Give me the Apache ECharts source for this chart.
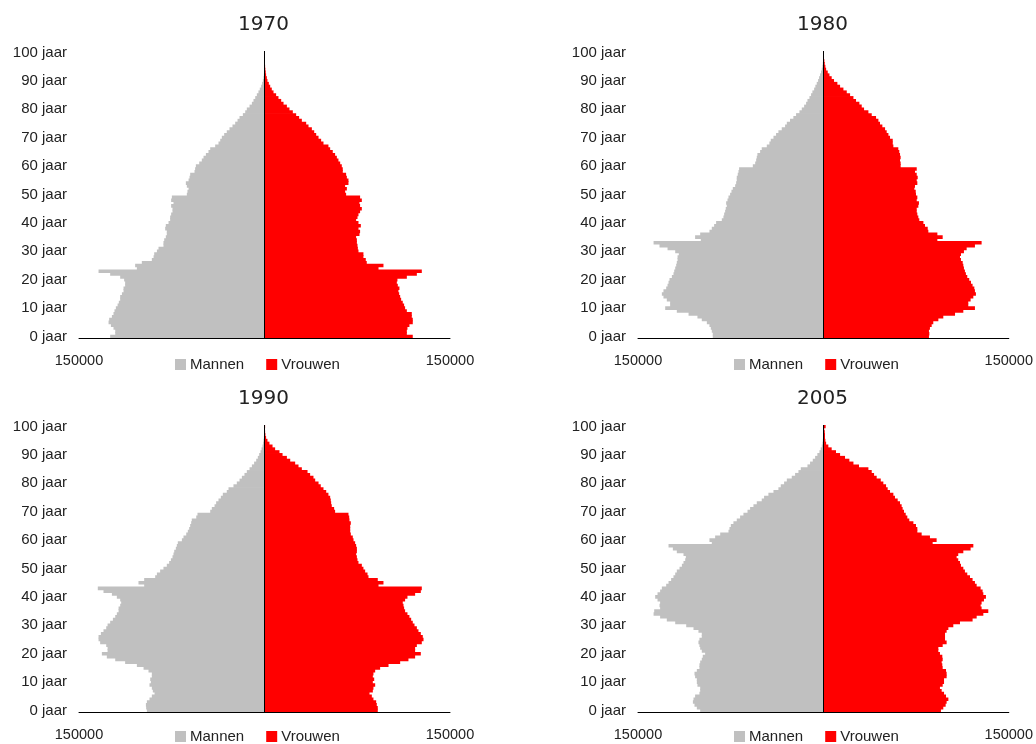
<!DOCTYPE html>
<html>
<head>
<meta charset="utf-8">
<title>Bevolkingspiramides</title>
<script src="https://cdn.jsdelivr.net/npm/echarts@6/dist/echarts.min.js"></script>
<style>
  html, body { margin: 0; padding: 0; background: #fff; }
  #chart { width: 1036px; height: 744px; }
</style>
</head>
<body>
<div id="chart"></div>
<script>
// ── Data (persons per age year) ─────────────────────────────────────────────

const ages = Array.from({ length: 101 }, (_, i) => i + ' jaar');

const m1970 = [124800,120700,120700,122100,124200,126100,125600,123400,122100,121300,
  120200,118800,117800,116700,116700,115300,114000,114000,112700,112700,
  113500,116700,124800,134200,103200,104600,99200,91100,89700,89200,
  87000,85700,81700,81700,81100,79800,79000,79000,80300,79800,
  77600,76300,76300,75500,74400,74400,75500,73600,75500,74900,
  62800,62300,61400,62800,63600,61400,60600,60100,56600,56100,
  55500,52800,50700,49300,47400,45300,43900,39900,37200,35800,
  34500,32600,30500,28300,25900,23700,21800,20200,17500,15600,
  14300,12100,10200,8900,7500,6200,4900,3800,2700,1900,
  1300,800,500,300,200,100,60,40,20,10,10];
const v1970 = [119900,115100,115100,115600,117200,119900,119900,119100,119100,115100,
  113700,112900,111800,110500,109700,108900,108300,109100,107800,107000,
  107500,115100,123200,127200,92200,96200,82700,81900,80000,80000,
  76000,75500,75200,74700,74700,74100,76800,77300,76000,77900,
  76000,74100,75200,76000,77300,78700,77300,76800,78700,77300,
  66000,65200,66600,65200,67900,67900,66600,66000,63300,63300,
  62500,61200,59800,58500,57100,55200,53100,51700,47700,45800,
  43700,41800,40200,38300,35600,33700,30200,28000,25600,22900,
  20200,18100,15400,13500,11300,9400,7300,5900,4600,3500,
  2400,1900,1300,1000,700,500,300,200,100,50,30];

const m1980 = [89500,89500,90300,91100,92200,94300,98400,101900,109100,118600,
  128000,124000,124000,126700,129400,130700,129400,127200,126100,125300,
  124500,122600,121300,120700,119900,119100,118600,118000,118000,117000,
  119900,126100,132600,137400,99200,103800,99700,92200,90300,88400,
  86800,82200,80900,80300,79500,79000,78200,78700,77600,76800,
  75500,74400,73300,71400,70600,70100,70100,69300,68700,68200,
  57100,55200,54400,53900,53400,51200,49900,45800,43700,42600,
  40400,38300,36400,33700,31000,29600,27000,24300,22100,19400,
  17500,15600,14000,12900,11300,10000,8900,7500,6500,5400,
  4300,3500,2700,1900,1300,800,500,300,200,100,50];
const v1980 = [85400,85700,85400,86200,87600,88900,93000,97000,106500,113200,
  122600,117200,117200,119100,121300,123400,122600,122100,120700,119400,
  118000,116400,115300,114500,113700,113200,112700,111300,110500,111300,
  113700,115900,122600,128000,92200,96500,92200,84900,84400,82200,
  80900,77600,76800,76000,75500,75500,76800,77300,75500,76000,
  74900,74700,73600,74100,76000,75500,76300,75500,74100,75500,
  62500,62500,62000,62500,62000,61400,60600,56600,56100,56100,
  53900,52600,51200,49900,47700,45800,44500,42600,39100,36400,
  32900,31000,29100,26400,24300,21600,18900,16200,13500,11300,
  8600,6700,4900,3500,2200,1600,1100,800,500,300,200];

const m1990 = [95100,95700,95900,95100,93000,91100,88900,90300,91100,93000,
  91900,92400,91100,91100,93800,97800,103200,112700,120700,127500,
  131500,126900,126900,128000,132900,134200,134200,132300,130200,128000,
  126900,124800,122600,120700,119400,118000,118000,116700,115900,116700,
  119400,123400,130200,134800,97300,101900,97300,88400,87000,84400,
  81700,79000,77100,75700,74400,73600,73000,71700,70900,70100,
  66800,65500,63300,62000,60900,60100,59300,58800,55200,54200,
  43900,42600,40400,39100,37200,35300,33700,30500,29100,25100,
  22400,20200,18300,16200,14300,12100,10200,8400,6700,5400,
  4300,3200,2400,1600,1100,800,500,300,200,100,50];
const v1990 = [91600,91600,90800,90300,88100,86800,84900,87600,88100,89500,
  87600,88700,87600,88100,89500,93500,100300,109700,116400,121800,
  126400,121800,121800,123200,127200,128600,128000,126400,124500,123200,
  121300,119900,118600,117200,115600,113700,112900,112400,111800,113700,
  115600,121800,126400,127200,92200,96200,91600,84100,83300,81400,
  80000,78700,76000,75200,74700,74100,74700,74700,74100,73300,
  72000,71400,69800,69300,69300,69300,69800,68700,68500,67900,
  57100,56300,54400,53900,53600,53100,51700,49900,47700,45500,
  43700,41000,39600,36900,34800,30200,27500,24800,20800,18100,
  14600,12100,8600,6500,4000,2400,1300,800,500,300,500];

const m2005 = [99700,102400,104300,105600,105100,103800,100300,99700,99700,101900,
  102400,102400,103800,104300,102400,100300,100300,99700,98400,97600,
  95700,98400,99700,100300,101100,100300,98400,98400,101100,105100,
  111000,119900,126700,132100,137400,136900,132100,132600,132100,134200,
  136100,134200,132100,130700,127200,125300,123200,121300,119900,118600,
  116400,114500,113200,111800,111300,113200,118600,121800,125300,90300,
  92200,87600,83500,76800,76000,74900,72800,70100,67400,64700,
  61400,59300,56600,53900,49900,48000,44500,40400,36400,34500,
  31800,29600,25600,22900,20200,18300,12900,10800,8600,6700,
  4900,3200,2200,1300,800,500,300,200,100,50,30];
const v2005 = [95100,97000,98900,99700,101100,99200,97600,95700,94300,96500,
  97600,97600,99700,99700,99200,96500,96200,95700,96500,96200,
  94300,93000,93000,96500,99700,98400,98400,98400,99700,101100,
  105100,110500,120700,124000,129400,133400,128000,127200,128000,129900,
  131500,129400,128800,127200,124000,122600,120700,118600,116400,114500,
  113200,111300,110500,109100,107800,109100,113200,119100,121300,88400,
  91600,86200,79500,76000,76000,74900,72800,69500,67900,66600,
  65200,64100,63300,62000,60100,57900,56600,53900,52000,50700,
  48500,46400,43100,41000,39100,36400,28800,24300,21000,17500,
  13500,10200,6700,4000,2200,1600,1300,1300,1100,700,1800];

const xMax = 150000;

// ── Layout ───────────────────────────────────────────────────────────────────

const panels = [
  { year: '1970', men: m1970, women: v1970, left: 79,  top: 51,  legendTop: 357 },
  { year: '1980', men: m1980, women: v1980, left: 638, top: 51,  legendTop: 357 },
  { year: '1990', men: m1990, women: v1990, left: 79,  top: 425, legendTop: 729 },
  { year: '2005', men: m2005, women: v2005, left: 638, top: 425, legendTop: 729 },
];
const GW = 371, GH = 287;
const TXT = '#222';
const FONT = '"Liberation Sans", Arial, sans-serif';
const GREY = '#c0c0c0', RED = '#ff0000';
// bars a bit thicker than the 2.84px band so neighbours overlap (no hairline gaps)
const BAR_W = 3.6;

const option = {
  animation: false,
  backgroundColor: '#fff',
  title: panels.map(p => ({
    text: p.year,
    left: p.left + GW / 2 - 1,
    top: p.top - 36,
    padding: 0,
    textAlign: 'center',
    textStyle: { fontFamily: '"DejaVu Sans", Verdana, sans-serif', fontSize: 20, fontWeight: 'normal', color: TXT },
  })),
  legend: panels.map(p => ({
    left: p.left + 96,
    top: p.legendTop,
    padding: 0,
    icon: 'rect',
    itemWidth: 11,
    itemHeight: 11,
    itemGap: 22,
    selectedMode: false,
    itemStyle: { borderWidth: 0 },
    textStyle: { fontFamily: FONT, fontSize: 15, color: TXT, padding: [0, 0, 0, -1] },
    data: ['Mannen', 'Vrouwen'],
  })),
  grid: panels.map(p => ({ left: p.left, top: p.top, width: GW, height: GH })),
  xAxis: panels.map((p, i) => ({
    type: 'value',
    gridIndex: i,
    min: -xMax,
    max: xMax,
    interval: xMax,
    axisLine: { show: true, lineStyle: { color: '#000', width: 1 } },
    axisTick: { show: false },
    splitLine: { show: false },
    axisLabel: {
      margin: 15,
      fontFamily: FONT,
      fontSize: 14.5,
      color: TXT,
      formatter: v => (v === 0 ? '' : String(Math.abs(v))),
    },
  })),
  yAxis: panels.map((p, i) => ({
    type: 'category',
    gridIndex: i,
    data: ages,
    axisLine: { show: false },
    axisTick: { show: false },
    splitLine: { show: false },
    axisLabel: {
      margin: 12,
      fontFamily: FONT,
      fontSize: 15,
      color: TXT,
      interval: idx => idx % 10 === 0,
    },
  })),
  series: panels.flatMap((p, i) => [
    {
      name: 'Mannen',
      type: 'bar',
      xAxisIndex: i,
      yAxisIndex: i,
      stack: 'pyr' + i,
      barWidth: BAR_W,
      itemStyle: { color: GREY },
      data: p.men.map(v => -v),
    },
    {
      name: 'Vrouwen',
      type: 'bar',
      xAxisIndex: i,
      yAxisIndex: i,
      stack: 'pyr' + i,
      barWidth: BAR_W,
      itemStyle: { color: RED },
      data: p.women,
      markLine: {
        silent: true,
        symbol: 'none',
        label: { show: false },
        lineStyle: { color: '#000', width: 1, type: 'solid' },
        data: [{ xAxis: 0 }],
      },
    },
  ]),
};

const chart = echarts.init(document.getElementById('chart'), null, { renderer: 'canvas' });
chart.setOption(option);
</script>
</body>
</html>
